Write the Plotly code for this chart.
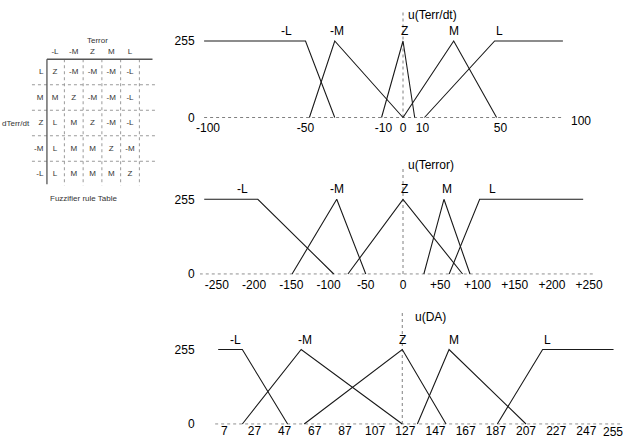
import plotly.graph_objects as go

W, H = 625, 437

# ---------------- data ----------------
set_names = ["-L", "-M", "Z", "M", "L"]
u_left_shoulder = [255, 255, 0]
u_triangle = [0, 255, 0]
u_right_shoulder = [0, 255, 255]
u_levels = [0, 255]

# u(Terr/dt) membership breakpoints
derr_nL = [-102, -50, -35]
derr_nM = [-48, -35, 0]
derr_Z = [-11, 0, 6]
derr_M = [0, 26, 48]
derr_L = [11, 47, 82]
derr_span = [-102, 82]
derr_ticks = [-100, -50, -10, 0, 10, 50]
derr_ticktext = ["-100", "-50", "-10", "0", "10", "50"]
derr_end_tick = 100
derr_axis = 0

# u(Terror) membership breakpoints
terr_nL = [-267, -195, -93]
terr_nM = [-149, -89, -50]
terr_Z = [-74, 0, 80]
terr_M = [28, 55, 90]
terr_L = [62, 103, 242]
terr_span = [-273, 255]
terr_ticks = [-250, -200, -150, -100, -50, 0, 50, 100, 150, 200, 250]
terr_ticktext = ["-250", "-200", "-150", "-100", "-50", "0",
                 "+50", "+100", "+150", "+200", "+250"]
terr_axis = 0

# u(DA) membership breakpoints
da_nL = [3, 19, 49]
da_nM = [19, 58, 125]
da_Z = [60, 125, 154]
da_M = [135, 156, 207]
da_L = [188, 218, 265]
da_span = [1, 271]
da_ticks = [7, 27, 47, 67, 87, 107, 127, 147, 167, 187, 207, 227, 247]
da_ticktext = [str(v) for v in da_ticks]
da_end_tick = 255
da_axis = 125

# Fuzzifier rule table: rows = dTerr/dt, columns = Terror
rule_cols = ["-L", "-M", "Z", "M", "L"]
rule_rows = ["L", "M", "Z", "-M", "-L"]
rule_table = [
    ["Z", "-M", "-M", "-M", "-L"],
    ["M", "Z", "-M", "-M", "-L"],
    ["L", "M", "Z", "-M", "-L"],
    ["L", "M", "M", "Z", "-M"],
    ["L", "M", "M", "M", "Z"],
]

# ---------------- layout helpers ----------------
FONT = "Liberation Sans, Arial, Helvetica, sans-serif"
LINE = "#1a1a1a"
DOT = "#808080"
X_LEFT_PX = 200  # left edge of the chart panels


def xr(ref_px, ref_val, ppu):
    return [ref_val - (ref_px - X_LEFT_PX) / ppu, ref_val + (W - ref_px) / ppu]


panels = [
    dict(sets=[derr_nL, derr_nM, derr_Z, derr_M, derr_L], span=derr_span,
         ticks=derr_ticks, ticktext=derr_ticktext, axis=derr_axis,
         xmap=(403, 0, 1.95), p0=117.5, p255=41, ptop=4, title="u(Terr/dt)",
         title_px=15, title_shift=3, top_px=10, standoff=-3,
         label_shift=[-19, 2, 1, 0, 5]),
    dict(sets=[terr_nL, terr_nM, terr_Z, terr_M, terr_L], span=terr_span,
         ticks=terr_ticks, ticktext=terr_ticktext, axis=terr_axis,
         xmap=(403, 0, 0.7445), p0=274, p255=199.3, ptop=155, title="u(Terror)",
         title_px=165, title_shift=3, top_px=167, standoff=-2,
         label_shift=[-15, 0, 1, 3, 13]),
    dict(sets=[da_nL, da_nM, da_Z, da_M, da_L], span=da_span,
         ticks=da_ticks, ticktext=da_ticktext, axis=da_axis,
         xmap=(405.3, 127, 1.509), p0=424, p255=349.5, ptop=305, title="u(DA)",
         title_px=317, title_shift=11, top_px=313, standoff=-6,
         label_shift=[-7, 4, 0, 5, 5]),
]

fig = go.Figure()
annotations = []
layout = dict(
    width=W, height=H, autosize=False,
    margin=dict(l=0, r=0, t=0, b=0, pad=0),
    paper_bgcolor="white", plot_bgcolor="rgba(0,0,0,0)",
    showlegend=False,
    font=dict(family=FONT, size=12, color="black"),
)

u_shapes = [u_left_shoulder, u_triangle, u_triangle, u_triangle, u_right_shoulder]
TICKFONT = dict(family=FONT, size=12, color="black")

for i, p in enumerate(panels):
    n = i + 1
    xa = "x" if n == 1 else f"x{n}"
    ya = "y" if n == 1 else f"y{n}"
    xkey = "xaxis" if n == 1 else f"xaxis{n}"
    ykey = "yaxis" if n == 1 else f"yaxis{n}"
    refpx, refval, ppu = p["xmap"]
    k = (p["p0"] - p["p255"]) / 255.0
    pb = p["p0"] + 0.7
    layout[xkey] = dict(
        domain=[X_LEFT_PX / W, 1], range=xr(refpx, refval, ppu), anchor=ya,
        showgrid=False, zeroline=False, showline=False, automargin=False,
        tickvals=p["ticks"], ticktext=p["ticktext"],
        ticks="outside", ticklen=1, tickcolor="rgba(0,0,0,0)",
        ticklabelstandoff=p["standoff"],
        tickfont=TICKFONT, fixedrange=True,
    )
    layout[ykey] = dict(
        domain=[1 - pb / H, 1 - p["ptop"] / H],
        range=[(p["p0"] - pb) / k, (p["p0"] - p["ptop"]) / k], anchor=xa,
        showgrid=False, zeroline=False, showline=False, automargin=False,
        tickvals=u_levels, ticktext=[str(v) for v in u_levels],
        ticks="outside", ticklen=2, tickcolor="rgba(0,0,0,0)",
        tickfont=TICKFONT, fixedrange=True,
    )
    # dotted baseline and dotted vertical axis
    fig.add_trace(go.Scatter(x=p["span"], y=[0, 0], mode="lines",
                             line=dict(color=DOT, width=1, dash="dot"),
                             xaxis=xa, yaxis=ya, hoverinfo="skip"))
    fig.add_trace(go.Scatter(x=[p["axis"], p["axis"]],
                             y=[0, (p["p0"] - p["top_px"]) / k],
                             mode="lines",
                             line=dict(color=DOT, width=1, dash="dot"),
                             xaxis=xa, yaxis=ya, hoverinfo="skip"))
    # membership functions
    for j, (name, xs) in enumerate(zip(set_names, p["sets"])):
        fig.add_trace(go.Scatter(x=xs, y=u_shapes[j], mode="lines",
                                 line=dict(color=LINE, width=1.1),
                                 xaxis=xa, yaxis=ya, name=name))
        annotations.append(dict(
            x=xs[1], y=255, xref=xa, yref=ya, text=name, showarrow=False,
            yanchor="bottom", yshift=1, xshift=p["label_shift"][j],
            font=TICKFONT))
    annotations.append(dict(
        x=p["axis"], y=1 - p["title_px"] / H, xref=xa, yref="paper",
        text=p["title"], showarrow=False, xanchor="left", yanchor="middle",
        xshift=p["title_shift"], font=TICKFONT))

# trailing tick labels that sit off the regular spacing
annotations.append(dict(x=derr_end_tick, y=0, xref="x", yref="y",
                        text=str(derr_end_tick), showarrow=False,
                        xshift=-17, yshift=-4, yanchor="middle", font=TICKFONT))
annotations.append(dict(x=da_end_tick, y=0, xref="x3", yref="y3",
                        text=str(da_end_tick), showarrow=False,
                        xshift=15, yanchor="middle", yshift=-8, font=TICKFONT))

# ---------------- rule table (subplot 4) ----------------
col_px0, col_step = 55, 18.75
row_px0, row_step = 72, 25.5
layout["xaxis4"] = dict(domain=[0, 1], range=[-col_px0 / col_step, (W - col_px0) / col_step],
                        anchor="y4", visible=False, fixedrange=True, automargin=False)
layout["yaxis4"] = dict(domain=[0, 1], range=[(H - row_px0) / row_step, -row_px0 / row_step],
                        anchor="x4", visible=False, fixedrange=True, automargin=False)

TFONT = dict(family=FONT, size=8, color="#333333")
TGRID = "#9a9a9a"
ncol, nrow = len(rule_cols), len(rule_rows)

for c in range(ncol):
    fig.add_trace(go.Scatter(x=[c + 0.5, c + 0.5], y=[-0.5, nrow - 0.55], mode="lines",
                             line=dict(color=TGRID, width=1, dash="dot"),
                             xaxis="x4", yaxis="y4", hoverinfo="skip"))
for r in range(nrow - 1):
    fig.add_trace(go.Scatter(x=[-1.23, ncol + 0.45], y=[r + 0.5, r + 0.5], mode="lines",
                             line=dict(color=TGRID, width=1, dash="dot"),
                             xaxis="x4", yaxis="y4", hoverinfo="skip"))
fig.add_trace(go.Scatter(x=[-0.43, ncol + 0.2], y=[-0.5, -0.5], mode="lines",
                         line=dict(color="#555555", width=1.3),
                         xaxis="x4", yaxis="y4", hoverinfo="skip"))
fig.add_trace(go.Scatter(x=[-0.43, -0.43], y=[-0.5, nrow - 0.6], mode="lines",
                         line=dict(color="#555555", width=1.3),
                         xaxis="x4", yaxis="y4", hoverinfo="skip"))

cx, cy, ct = [], [], []
for r, row in enumerate(rule_table):
    for c, val in enumerate(row):
        cx.append(c)
        cy.append(r)
        ct.append(val)
fig.add_trace(go.Scatter(x=cx, y=cy, text=ct, mode="text", textfont=TFONT,
                         xaxis="x4", yaxis="y4", hoverinfo="skip"))
fig.add_trace(go.Scatter(x=list(range(ncol)), y=[-0.78] * ncol, text=rule_cols,
                         mode="text", textfont=TFONT, xaxis="x4", yaxis="y4",
                         hoverinfo="skip"))
fig.add_trace(go.Scatter(x=[-0.62] * nrow, y=list(range(nrow)), text=rule_rows,
                         mode="text", textposition="middle left", textfont=TFONT,
                         xaxis="x4", yaxis="y4", hoverinfo="skip"))
annotations.append(dict(x=2.24, y=-1.25, xref="x4", yref="y4", text="Terror",
                        showarrow=False, font=TFONT))
annotations.append(dict(x=-2.93, y=2, xref="x4", yref="y4", text="dTerr/dt",
                        showarrow=False, xanchor="left", font=TFONT))
annotations.append(dict(x=1.55, y=4.98, xref="x4", yref="y4", text="Fuzzifier rule Table",
                        showarrow=False, font=TFONT))

layout["annotations"] = annotations
fig.update_layout(**layout)
fig.write_html(
    "out.html",
    config={"displayModeBar": False},
    post_script="document.body.style.margin='0';document.body.style.overflow='hidden';",
)
